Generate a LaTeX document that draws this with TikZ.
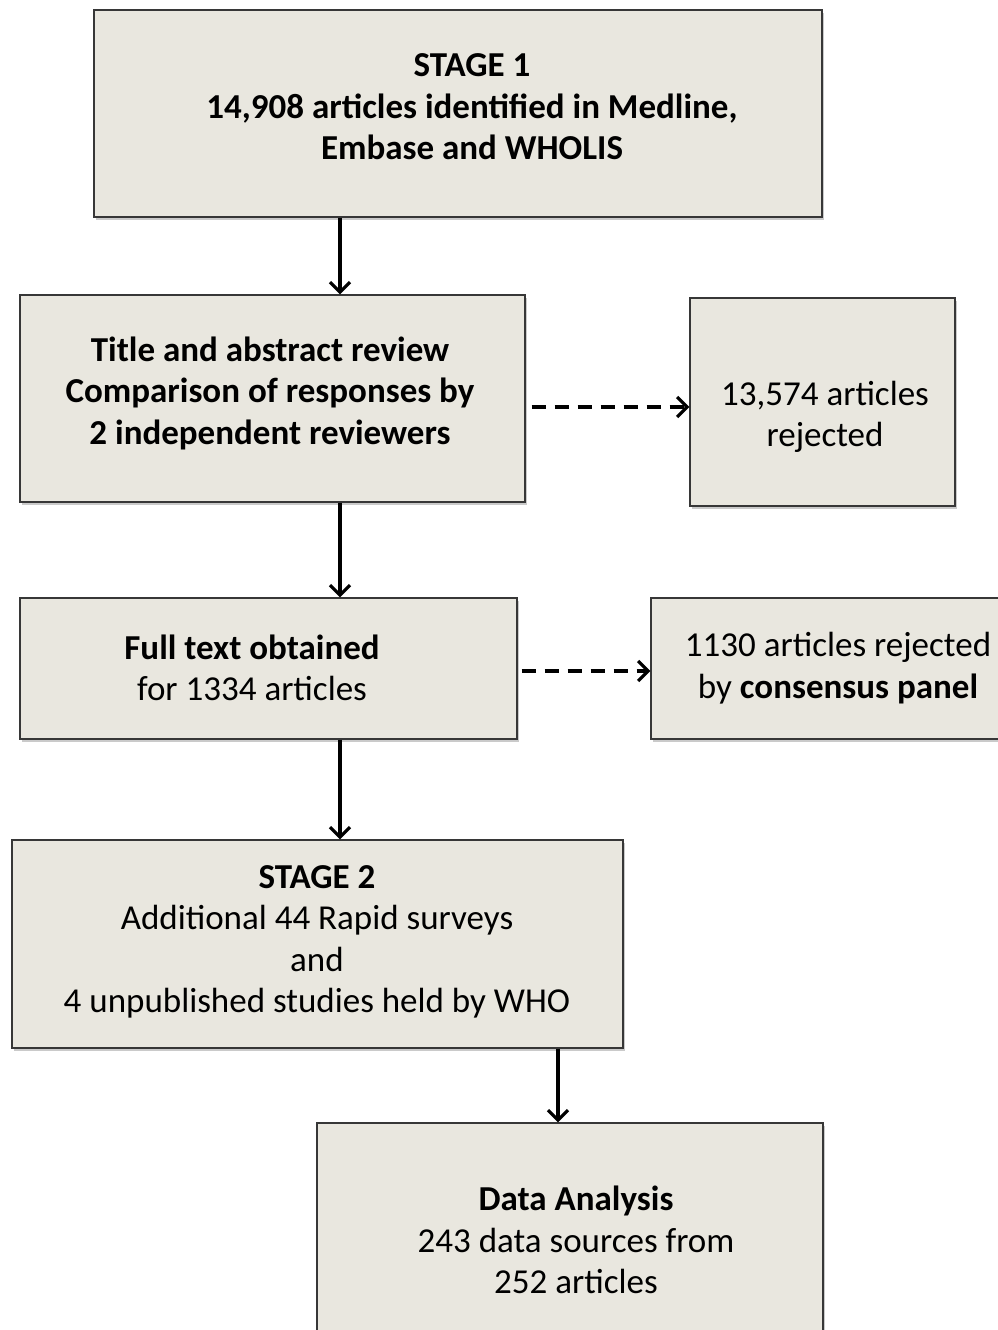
\documentclass[tikz,border=0pt]{standalone}
\usepackage{fontspec}
\setmainfont{Carlito}
\usetikzlibrary{arrows.meta,shadows}
\definecolor{boxfill}{RGB}{233,231,223}
\definecolor{boxline}{RGB}{55,55,55}
\begin{document}
\begin{tikzpicture}[x=1pt,y=-1pt,
  box/.style={draw=boxline,line width=1.4pt,fill=boxfill,inner sep=0pt,
    drop shadow={shadow xshift=2pt,shadow yshift=-3pt,opacity=0.35,fill=black!60}},
  txt/.style={align=center,inner sep=0pt,font=\fontsize{35}{41.5}\selectfont},
  arr/.style={line width=3.2pt,-{Straight Barb[length=10pt,width=20pt,line width=3.2pt]}},
  darr/.style={arr,dash pattern=on 14pt off 9pt}]
\useasboundingbox (0,0) rectangle (997,1330);
% boxes
\node[box,minimum width=728pt,minimum height=207pt] (b1) at (458,113.5) {};
\node[box,minimum width=505pt,minimum height=207pt] (b2) at (272.5,398.5) {};
\node[box,minimum width=265pt,minimum height=208pt] (b3) at (822.5,402) {};
\node[box,minimum width=497pt,minimum height=141pt] (b4) at (268.5,668.5) {};
\node[box,minimum width=374pt,minimum height=141pt] (b5) at (838,668.5) {};
\node[box,minimum width=611pt,minimum height=208pt] (b6) at (317.5,944) {};
\node[box,minimum width=506pt,minimum height=232pt] (b7) at (570,1239) {};
% texts
\node[txt] (t1) at (472,107) {\textbf{STAGE 1}\\\textbf{14,908 articles identified in Medline,}\\\textbf{Embase and WHOLIS}};
\node[txt] (t2) at (270,393) {\textbf{Title and abstract review}\\\textbf{Comparison of responses by}\\\textbf{2 independent reviewers}};
\node[txt] (t3) at (825,417) {13,574 articles\\rejected};
\node[txt] (t4) at (252,668) {\textbf{Full text obtained}\\for 1334 articles};
\node[txt] (t5) at (838,668) {1130 articles rejected\\by \textbf{consensus panel}};
\node[txt] (t6) at (317,942) {\textbf{STAGE 2}\\Additional 44 Rapid surveys\\and\\4 unpublished studies held by WHO};
\node[txt] (t7) at (576,1240) {\textbf{Data Analysis}\\243 data sources from\\252 articles};
% connectors
\coordinate (c1) at (340,0);
\coordinate (c2) at (0,407);
\coordinate (c3) at (0,671);
\coordinate (c4) at (558,0);
\draw[arr] (b1.south -| c1) -- (b2.north -| c1);
\draw[darr,shorten <=6pt] (b2.east |- c2) -- (b3.west |- c2);
\draw[arr] (b2.south -| c1) -- (b4.north -| c1);
\draw[arr] (b4.south -| c1) -- (b6.north -| c1);
\draw[darr,shorten <=4pt] (b4.east |- c3) -- (b5.west |- c3);
\draw[arr] (b6.south -| c4) -- (b7.north -| c4);
\end{tikzpicture}
\end{document}
